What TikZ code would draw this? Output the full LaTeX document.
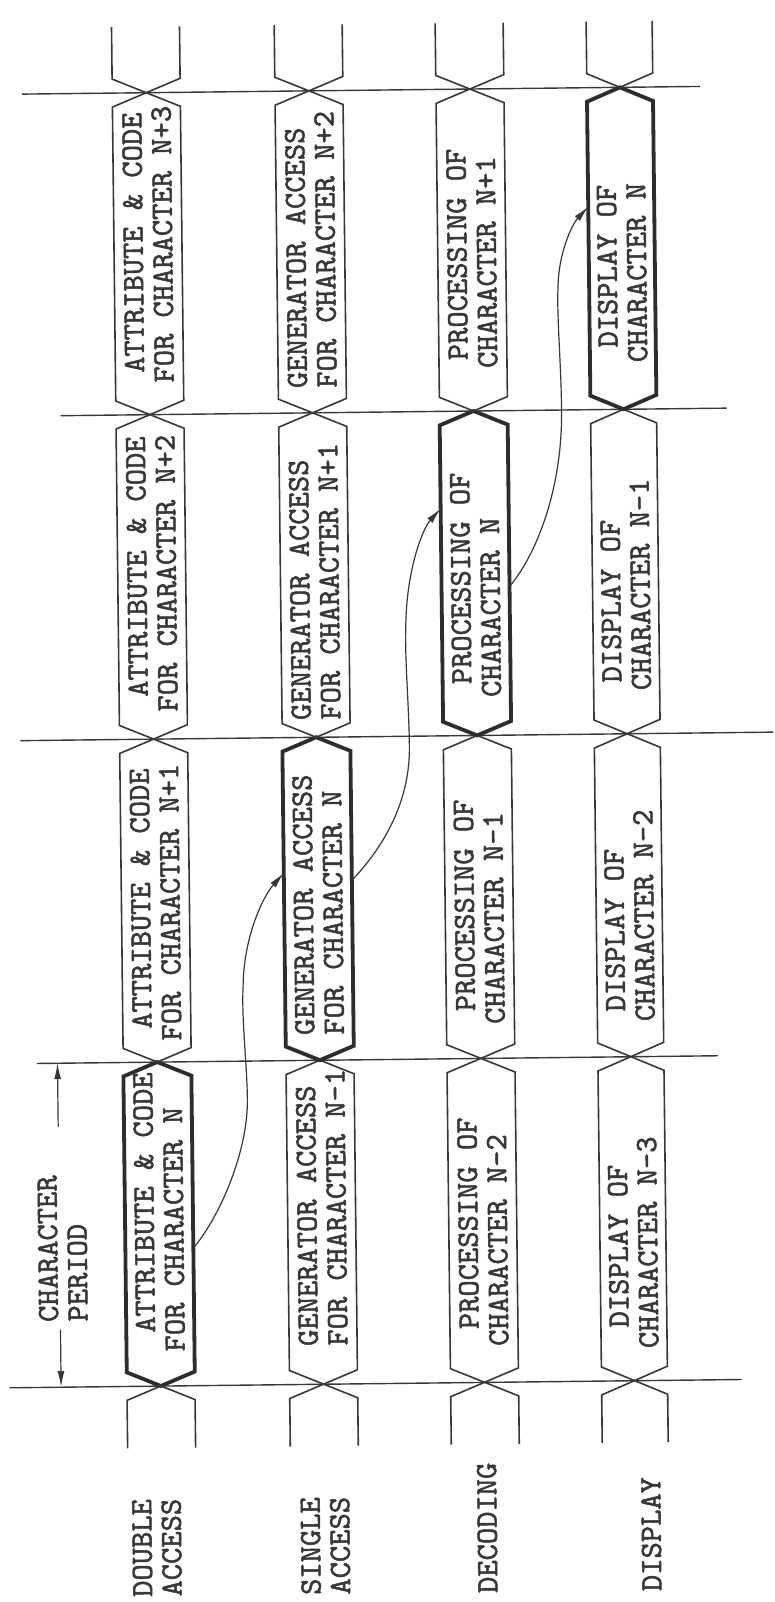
\documentclass[tikz,border=0pt]{standalone}
\usepackage{fontspec}
\newfontfamily\typewr{lmmono10-regular.otf}[FakeBold=1.6]
\usetikzlibrary{arrows.meta}
\definecolor{ink}{gray}{0.22}
\tikzset{
  tline/.style={line width=1.4pt, draw=ink},
  thincell/.style={line width=1.6pt, draw=ink, line join=miter},
  thickcell/.style={line width=3.8pt, draw=ink!80!black, line join=miter},
  cellframe/.style={draw=none, inner sep=0pt, outer sep=0pt, transform shape},
  ctext/.style={rotate=90.65, anchor=west, inner sep=0pt, outer sep=0pt, align=left, text=ink,
    font=\fontsize{31}{29.5}\selectfont\typewr},
  flow/.style={line width=1.2pt, draw=ink, -{Latex[length=16pt,width=7pt]}},
}
% #1 name, #2 centre x, #3 bottom line y, #4 top line y, #5 style, #6 width
\newcommand\hexcell[6]{%
  \node[cellframe, minimum width=#6pt, minimum height={#3-#4}] (#1) at (#2,{(#3+#4)/2}) {};
  \draw[#5] (#1.south) -- ([yshift=14pt]#1.south west) -- ([yshift=-14pt]#1.north west)
    -- (#1.north) -- ([yshift=-14pt]#1.north east) -- ([yshift=14pt]#1.south east) -- cycle;
}
\newcommand\botstub[1]{%
  \draw[thincell] ([yshift=-62pt]#1.south west) -- ([yshift=-14pt]#1.south west) -- (#1.south)
    -- ([yshift=-14pt]#1.south east) -- ([yshift=-62pt]#1.south east);
}
\newcommand\topstub[1]{%
  \draw[thincell] ([yshift=66pt]#1.north west) -- ([yshift=14pt]#1.north west) -- (#1.north)
    -- ([yshift=14pt]#1.north east) -- ([yshift=66pt]#1.north east);
}
\begin{document}
\begin{tikzpicture}[x=1pt, y=-1pt]
\fill[white] (0,0) rectangle (775,1602);
\useasboundingbox (0,0) rectangle (775,1602);
\begin{scope}[rotate around={0.65:(387,801)}]
% time lines
\draw[tline] (3,1383.5) -- (735,1383.5);
\draw[tline] (34,1059.5) -- (715,1059.5);
\draw[tline] (21,736.5) -- (774,736.5);
\draw[tline] (65,412) -- (731,412);
\draw[tline] (30,90) -- (708,90);
% double access column
\hexcell{d0}{154.3}{1383.5}{1059.5}{thickcell}{68}
\hexcell{d1}{154.3}{1059.5}{736.5}{thincell}{68}
\hexcell{d2}{154.3}{736.5}{412}{thincell}{68}
\hexcell{d3}{154.3}{412}{90}{thincell}{68}
% single access column
\hexcell{s0}{317}{1383.5}{1059.5}{thincell}{68}
\hexcell{s1}{317}{1059.5}{736.5}{thickcell}{68}
\hexcell{s2}{317}{736.5}{412}{thincell}{68}
\hexcell{s3}{317}{412}{90}{thincell}{68}
% decoding column
\hexcell{p0}{478}{1383.5}{1059.5}{thincell}{68}
\hexcell{p1}{478}{1059.5}{736.5}{thincell}{68}
\hexcell{p2}{478}{736.5}{412}{thickcell}{68}
\hexcell{p3}{478}{412}{90}{thincell}{68}
% display column
\hexcell{y0}{628}{1383.5}{1059.5}{thincell}{66}
\hexcell{y1}{628}{1059.5}{736.5}{thincell}{66}
\hexcell{y2}{628}{736.5}{412}{thincell}{66}
\hexcell{y3}{628}{412}{90}{thickcell}{66}
% stubs
\botstub{d0}\botstub{s0}\botstub{p0}\botstub{y0}
\topstub{d3}\topstub{s3}\topstub{p3}\topstub{y3}
% cell texts
\node[ctext] (d0t) at (154.3,1349) {\hspace*{19pt}ATTRIBUTE \& CODE\\FOR CHARACTER N};
\node[ctext] (d1t) at (154.3,1038) {\hspace*{12pt}ATTRIBUTE \& CODE\\FOR CHARACTER N+1};
\node[ctext] (d2t) at (154.3,709) {\hspace*{15pt}ATTRIBUTE \& CODE\\FOR CHARACTER N+2};
\node[ctext] (d3t) at (154.3,380) {\hspace*{10pt}ATTRIBUTE \& CODE\\FOR CHARACTER N+3};
\node[ctext] (s0t) at (317,1345) {GENERATOR ACCESS\\FOR CHARACTER N-1};
\node[ctext] (s1t) at (317,1034) {GENERATOR ACCESS\\FOR CHARACTER N};
\node[ctext] (s2t) at (317,719) {GENERATOR ACCESS\\FOR CHARACTER N+1};
\node[ctext] (s3t) at (317,387) {GENERATOR ACCESS\\FOR CHARACTER N+2};
\node[ctext] (p0t) at (478,1347) {\hspace*{17pt}PROCESSING OF\\CHARACTER N-2};
\node[ctext] (p1t) at (478,1025) {\hspace*{13pt}PROCESSING OF\\CHARACTER N-1};
\node[ctext] (p2t) at (478,698) {\hspace*{13pt}PROCESSING OF\\CHARACTER N};
\node[ctext] (p3t) at (478,369) {\hspace*{8pt}PROCESSING OF\\CHARACTER N+1};
\node[ctext] (y0t) at (628,1351) {\hspace*{21pt}DISPLAY OF\\CHARACTER N-3};
\node[ctext] (y1t) at (628,1024) {\hspace*{10pt}DISPLAY OF\\CHARACTER N-2};
\node[ctext] (y2t) at (628,693) {\hspace*{8pt}DISPLAY OF\\CHARACTER N-1};
\node[ctext] (y3t) at (628,365) {\hspace*{15pt}DISPLAY OF\\CHARACTER N};
% row labels
\node[ctext] (lab1) at (148.5,1594) {DOUBLE\\ACCESS};
\node[ctext] (lab2) at (317,1594) {SINGLE\\ACCESS};
\node[ctext] (lab3) at (479,1594) {DECODING};
\node[ctext] (lab4) at (643,1594) {DISPLAY};
% character period
\node[ctext] (cp) at (57.5,1318) {CHARACTER\\PERIOD};
\coordinate (cpa) at (54.5,1123);
\coordinate (cpb) at (54.5,1059.5);
\coordinate (cpc) at (54.5,1326);
\coordinate (cpd) at (54.5,1383.5);
\draw[flow] (cpa) -- (cpb);
\draw[flow] (cpc) -- (cpd);
% flow arrows
\draw[flow] ([yshift=-24.5pt]d0.east) .. controls (215,1215) and (244,1150) .. (244,1098)
  .. controls (244,1060) and (239,1020) .. (241,985)
  .. controls (242,935) and (262,895) .. ([yshift=26pt]s1.west);
\draw[flow] ([yshift=18pt]s1.east) .. controls (385,845) and (410,800) .. (410,747)
  .. controls (410,700) and (406,660) .. (408,620)
  .. controls (410,570) and (425,530) .. ([yshift=65pt]p2.west);
\draw[flow] ([yshift=-13.75pt]p2.east) .. controls (540,555) and (566,490) .. (566,412)
  .. controls (566,360) and (562,320) .. (564,285)
  .. controls (566,250) and (580,225) .. ([yshift=42pt]y3.west);
\end{scope}
\end{tikzpicture}
\end{document}
